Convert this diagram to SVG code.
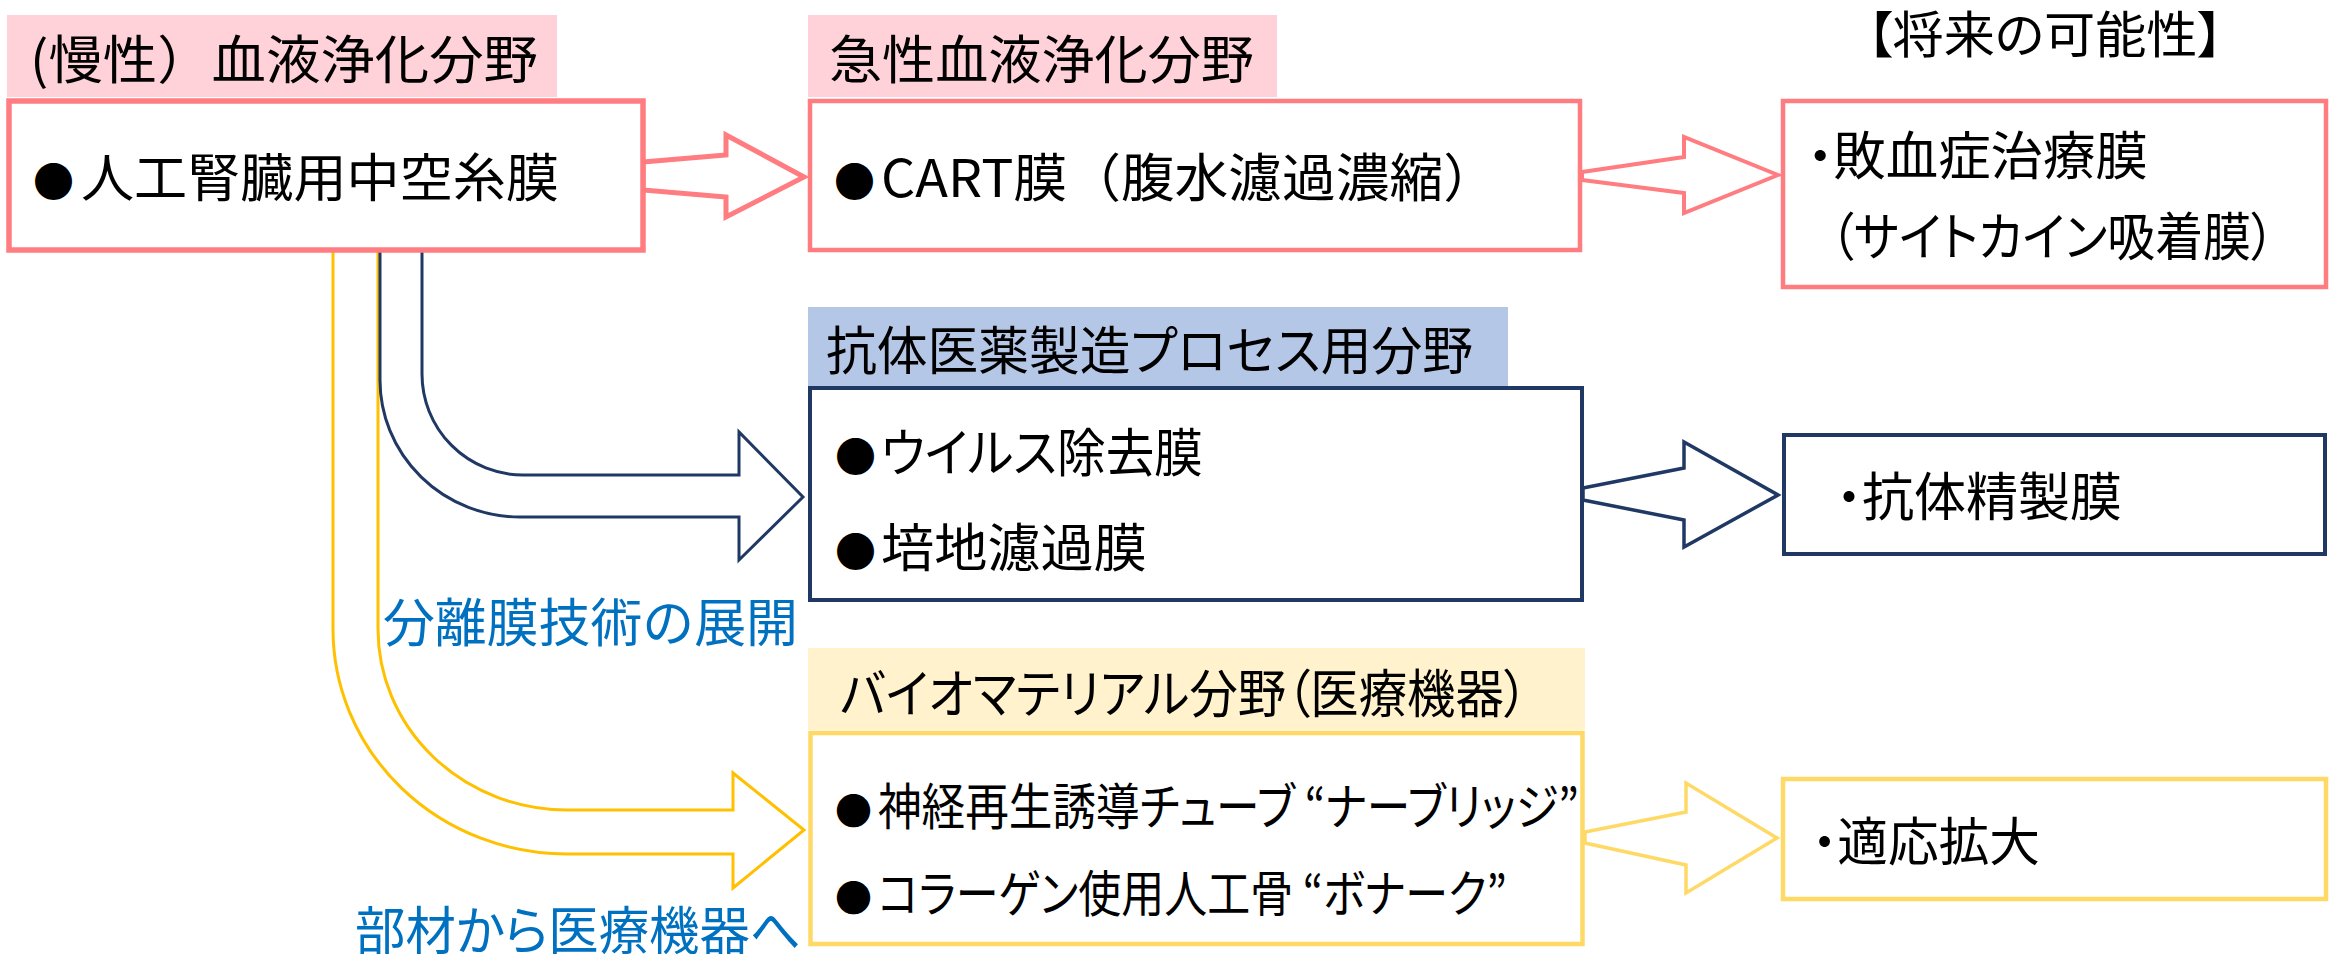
<svg xmlns="http://www.w3.org/2000/svg" width="2338" height="954" viewBox="0 0 2338 954">
<style>
text { font-family: "Noto Sans CJK JP", "Noto Sans", sans-serif; fill: #000; font-size: 52px; }
.palt { font-feature-settings: "palt" 1; }
.s50 { font-size: 50px; }
.bul { font-size: 41px; }
.bul2 { font-size: 37px; }
.blue { fill: #0070C0; }
.pink-bg { fill: #FFD1D9; }
.blue-bg { fill: #B4C7E7; }
.yel-bg { fill: #FFF2CC; }
.pink { fill: #fff; stroke: #FF7C80; stroke-width: 4.5; }
.navy { fill: #fff; stroke: #1F3864; stroke-width: 4; }
.yel { fill: #fff; stroke: #FFD966; stroke-width: 4.5; }
.arr-pink { fill: #fff; stroke: #FF7C80; stroke-width: 4; stroke-linejoin: miter; }
.arr-navy { fill: #fff; stroke: #1F3864; stroke-width: 3.5; stroke-linejoin: miter; }
.arr-yel { fill: #fff; stroke: #FFD966; stroke-width: 3.5; stroke-linejoin: miter; }
.curve-navy { fill: none; stroke: #1F3864; stroke-width: 3; }
.curve-yel { fill: none; stroke: #FFC000; stroke-width: 3; }
</style>

<g id="connectors">
  <path class="curve-yel" d="M333,250 V629 A234,225 0 0 0 567,854 H733 V888 L804,830 L733,773 V810 H567 A189,181 0 0 1 378,629 V250"/>
  <path class="curve-navy" d="M380,250 V380 A140,137 0 0 0 520,517 H739 V560 L803,497 L739,432 V475 H523 A101,101 0 0 1 422,374 V250"/>
  <polygon class="arr-pink" style="stroke-width:5" points="643,162 726,155 726,135 804,177 726,217 726,197 643,190"/>
  <polygon class="arr-pink" points="1582,172 1684,157 1684,137 1778,175 1684,213 1684,193 1582,180"/>
  <polygon class="arr-navy" points="1583,488 1684,468 1684,442 1778,495 1684,547 1684,520 1583,500"/>
  <polygon class="arr-yel" points="1585,832 1686,812 1686,783 1777,838 1686,893 1686,865 1585,843"/>
</g>

<g id="node-chronic">
  <rect class="pink-bg" x="7" y="15" width="550" height="82"/>
  <text x="30" y="79" textLength="508" lengthAdjust="spacingAndGlyphs">(慢性）血液浄化分野</text>
  <rect class="pink" x="9" y="101" width="634" height="149" style="stroke-width:5.5"/>
  <text x="33" y="197"><tspan class="bul">●</tspan><tspan x="81" textLength="478" lengthAdjust="spacingAndGlyphs">人工腎臓用中空糸膜</tspan></text>
</g>

<g id="node-acute">
  <rect class="pink-bg" x="808" y="15" width="469" height="82"/>
  <text x="829" y="79" textLength="425" lengthAdjust="spacingAndGlyphs">急性血液浄化分野</text>
  <rect class="pink" x="810" y="101" width="770" height="149"/>
  <text x="834" y="197"><tspan class="bul">●</tspan><tspan x="881" textLength="616" lengthAdjust="spacingAndGlyphs">CART膜（腹水濾過濃縮）</tspan></text>
</g>

<g id="future-title">
  <text class="palt s50" x="1867" y="53" textLength="356" lengthAdjust="spacingAndGlyphs">【将来の可能性】</text>
</g>

<g id="node-sepsis">
  <rect class="pink" x="1783" y="101" width="543" height="186"/>
  <text class="palt" x="1807" y="175" textLength="341" lengthAdjust="spacingAndGlyphs">・敗血症治療膜</text>
  <text class="palt" x="1830" y="256" textLength="445" lengthAdjust="spacingAndGlyphs">（サイトカイン吸着膜）</text>
</g>

<g id="node-antibody">
  <rect class="blue-bg" x="808" y="307" width="700" height="80"/>
  <text class="palt" x="826" y="370" textLength="647" lengthAdjust="spacingAndGlyphs">抗体医薬製造プロセス用分野</text>
  <rect class="navy" x="810" y="388" width="772" height="212"/>
  <text class="palt" x="835" y="472"><tspan class="bul">●</tspan><tspan x="881" textLength="322" lengthAdjust="spacingAndGlyphs">ウイルス除去膜</tspan></text>
  <text x="835" y="567"><tspan class="bul">●</tspan><tspan x="881" textLength="266" lengthAdjust="spacingAndGlyphs">培地濾過膜</tspan></text>
</g>

<g id="node-purification">
  <rect class="navy" x="1784" y="435" width="541" height="119"/>
  <text class="palt" x="1836" y="516" textLength="286" lengthAdjust="spacingAndGlyphs">・抗体精製膜</text>
</g>

<g id="label-separation">
  <text class="blue" x="383" y="642" textLength="415" lengthAdjust="spacingAndGlyphs">分離膜技術の展開</text>
</g>

<g id="label-device">
  <text class="blue palt" x="355" y="950" textLength="446" lengthAdjust="spacingAndGlyphs">部材から医療機器へ</text>
</g>

<g id="node-biomaterial">
  <rect class="yel-bg" x="808" y="648" width="777" height="82"/>
  <text class="palt" x="840" y="713" textLength="688" lengthAdjust="spacingAndGlyphs">バイオマテリアル分野（医療機器）</text>
  <rect class="yel" x="810.5" y="733" width="772" height="211"/>
  <text class="palt s50" x="835" y="825"><tspan class="bul2">●</tspan><tspan x="878" textLength="701" lengthAdjust="spacingAndGlyphs">神経再生誘導チューブ “ナーブリッジ”</tspan></text>
  <text class="palt s50" x="835" y="912"><tspan class="bul2">●</tspan><tspan x="878" textLength="629" lengthAdjust="spacingAndGlyphs">コラーゲン使用人工骨 “ボナーク”</tspan></text>
</g>

<g id="node-expansion">
  <rect class="yel" x="1783" y="779" width="543" height="120"/>
  <text class="palt" x="1812" y="861" textLength="228" lengthAdjust="spacingAndGlyphs">・適応拡大</text>
</g>
</svg>
